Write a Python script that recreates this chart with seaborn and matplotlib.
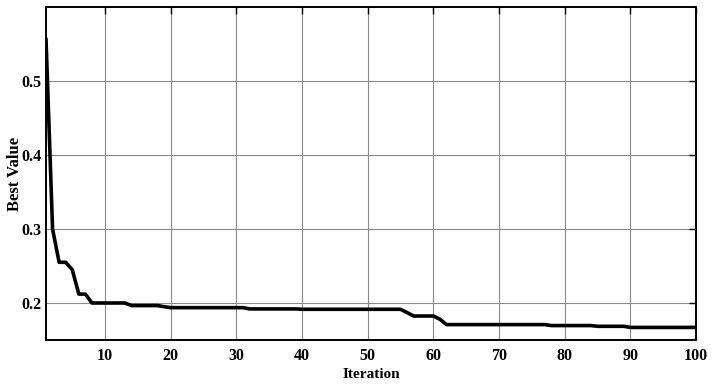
import numpy as np
import pandas as pd
import matplotlib
matplotlib.use('Agg')
import matplotlib.pyplot as plt
import seaborn as sns

# Convergence data
iteration = list(range(1, 101))
best_value = ([0.557, 0.300, 0.255, 0.255, 0.245, 0.212, 0.212]
              + [0.200] * 6            # 8-13
              + [0.1965] * 5           # 14-18
              + [0.195]                # 19
              + [0.1937] * 12          # 20-31
              + [0.192] * 8            # 32-39
              + [0.1915] * 16          # 40-55
              + [0.187]                # 56
              + [0.1824] * 4           # 57-60
              + [0.178]                # 61
              + [0.1708] * 16          # 62-77
              + [0.1695] * 7           # 78-84
              + [0.1685] * 5           # 85-89
              + [0.167] * 11)          # 90-100

df = pd.DataFrame({'Iteration': iteration, 'Best Value': best_value})

sns.set_style('white')
plt.rcParams['font.family'] = ['Liberation Serif', 'DejaVu Serif']
plt.rcParams['font.weight'] = 'bold'
plt.rcParams['text.color'] = 'black'
plt.rcParams['axes.labelcolor'] = 'black'

fig = plt.figure(figsize=(7.21, 3.84), dpi=100)
ax = fig.add_axes([0.0638, 0.1146, 0.9015, 0.8672])

sns.lineplot(data=df, x='Iteration', y='Best Value', ax=ax,
             color='black', linewidth=2.6)

ax.set_xlim(1, 100)
ax.set_ylim(0.15, 0.6)
ax.set_xticks([10, 20, 30, 40, 50, 60, 70, 80, 90, 100])
ax.set_yticks([0.2, 0.3, 0.4, 0.5])
ax.set_yticklabels(['0.2', '0.3', '0.4', '0.5'])

ax.grid(True, color='#8a8a8a', linewidth=0.8)
ax.tick_params(direction='in', length=5, width=1, top=True, right=True,
               labelsize=11.5, colors='black')
ax.tick_params(axis='x', pad=6)
ax.tick_params(axis='y', pad=3)
for lab in ax.get_xticklabels() + ax.get_yticklabels():
    lab.set_fontweight('bold')
for s in ax.spines.values():
    s.set_color('black')
    s.set_linewidth(1.4)

ax.set_xlabel('Iteration', fontsize=11, fontweight='bold', color='black')
ax.set_ylabel('Best Value', fontsize=12, fontweight='bold', color='black')
ax.xaxis.set_label_coords(0.5, -0.085)
ax.yaxis.set_label_coords(-0.036, 0.5)

fig.savefig('out.png', dpi=100)
